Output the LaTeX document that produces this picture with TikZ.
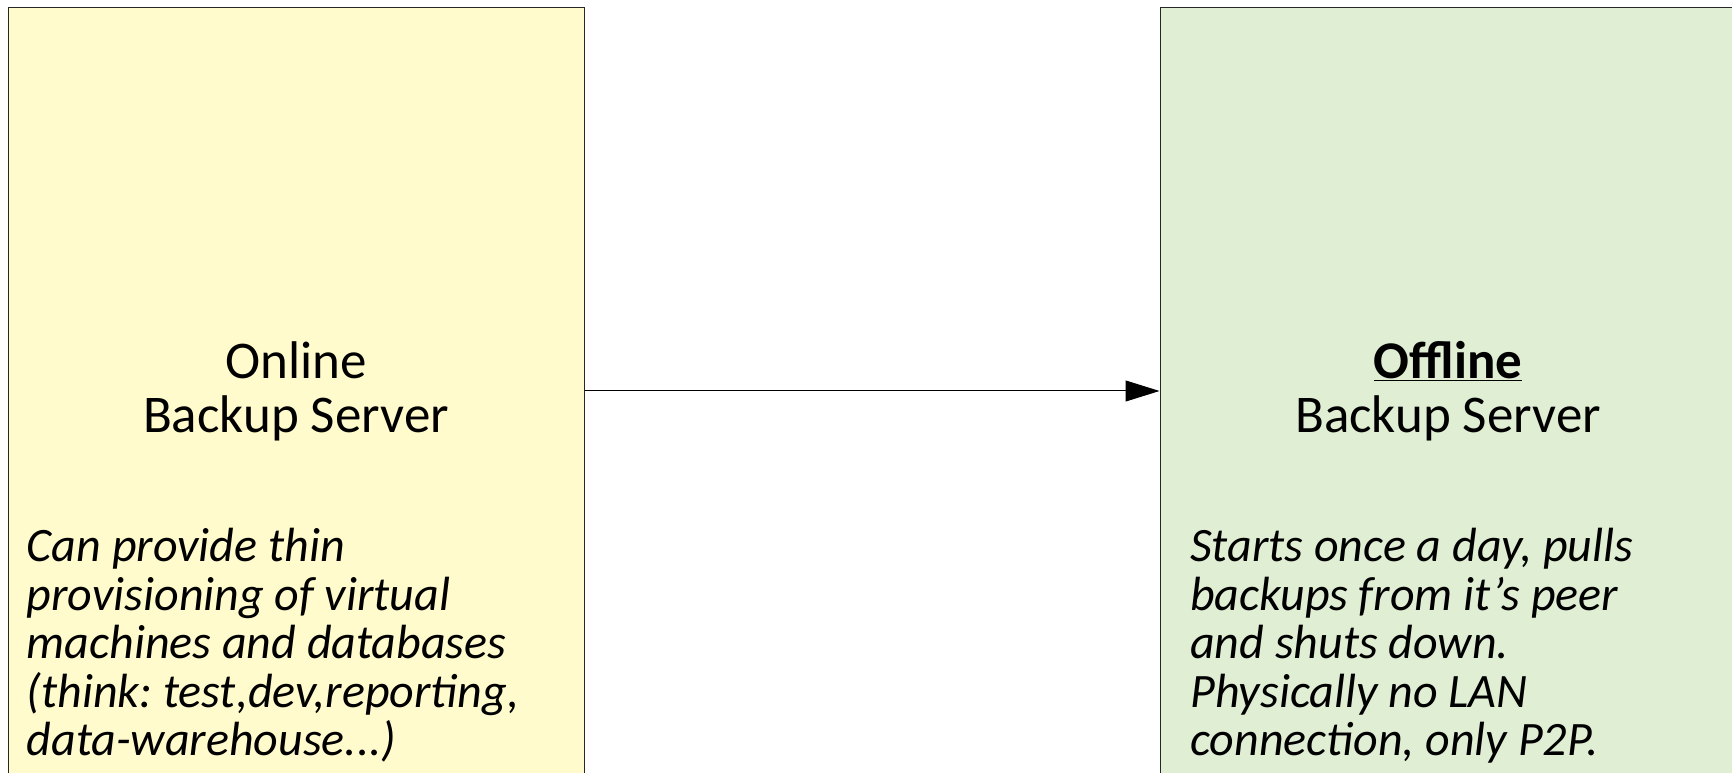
\documentclass[tikz,border=0pt]{standalone}
\usepackage{fontspec}
\setmainfont{Carlito}
\usetikzlibrary{arrows.meta}
\frenchspacing

\definecolor{onlinefill}{RGB}{255,251,204}
\definecolor{offlinefill}{RGB}{224,238,212}

\tikzset{
  serverbox/.style={draw=black!85, line width=0.75pt, minimum width=432pt, minimum height=575.25pt, inner sep=0pt},
  servertitle/.style={anchor=north, inner sep=0pt, align=center, font=\fontsize{39.75pt}{40.5pt}\selectfont},
  servernote/.style={anchor=north west, inner sep=0pt, align=left, font=\fontsize{36pt}{36.45pt}\selectfont\itshape},
}

\begin{document}
\begin{tikzpicture}[x=0.75pt,y=0.75pt,yscale=-1,xscale=1]
\useasboundingbox (0,0) rectangle (1732,773);

% Boxes
\node[serverbox, fill=onlinefill] (online) at (296,391) {};
\node[serverbox, fill=offlinefill] (offline) at (1448,391) {};

% Text Node
\node[servertitle] (onlinetitle) at (296,341) {Online\\Backup Server};
% Text Node
\node[servertitle] (offlinetitle) at (1448,341) {\underline{\textbf{Offline}}\\Backup Server};

% Text Node
\node[servernote] (onlinenote) at (26.5,528) {Can provide thin\\provisioning of virtual\\machines and databases\\(think: test,dev,reporting,\\data-warehouse...)};
% Text Node
\node[servernote] (offlinenote) at (1190,528) {Starts once a day, pulls\\backups from it’s peer\\and shuts down.\\Physically no LAN\\connection, only P2P.};

% Arrow
\draw[-{Triangle[length=25.5pt,width=15.75pt]}, line width=0.75pt] (online.east) -- (offline.west);

\end{tikzpicture}
\end{document}
